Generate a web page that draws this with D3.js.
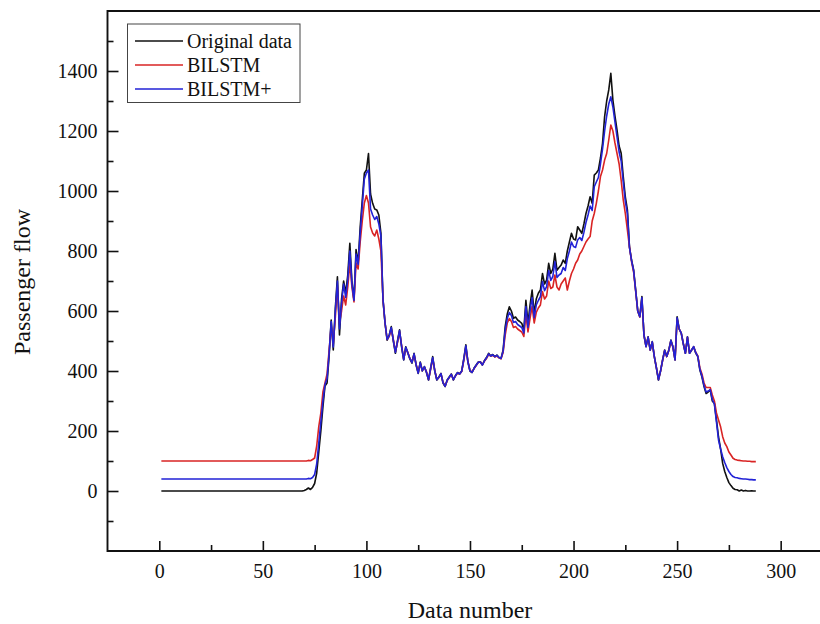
<!DOCTYPE html>
<html><head><meta charset="utf-8">
<script src="https://cdn.jsdelivr.net/npm/d3@7"></script>
<style>body{margin:0;background:#fff} svg{display:block;overflow:hidden}</style>
</head><body><svg id="c" width="820" height="624"></svg>
<script>
const seriesNames = ["Original data", "BILSTM", "BILSTM+"];
const seriesColors = ["#111111", "#d92424", "#2222d6"];

// Data number 1..288
const original = [
0,0,0,0,0,0,0,0,0,0,
0,0,0,0,0,0,0,0,0,0,
0,0,0,0,0,0,0,0,0,0,
0,0,0,0,0,0,0,0,0,0,
0,0,0,0,0,0,0,0,0,0,
0,0,0,0,0,0,0,0,0,0,
0,0,0,0,0,0,0,0,0,2,
5,10,5,12,25,60,130,200,280,350,
360,450,570,470,610,714,520,640,700,660,
720,826,700,636,805,760,880,970,1059,1070,
1125,990,959,940,937,920,860,636,560,503,
520,548,500,459,500,537,480,437,481,460,
440,426,459,420,392,430,400,415,395,370,
410,448,400,370,380,392,360,348,370,380,
390,370,385,395,390,400,440,487,430,400,
395,410,420,430,431,420,435,445,459,450,
455,448,453,445,442,470,548,590,614,600,
576,580,570,565,559,537,636,559,620,670,
592,640,659,670,725,690,703,759,725,740,
792,736,745,753,770,759,800,830,859,840,
837,881,870,859,890,925,950,981,959,1053,
1060,1070,1110,1159,1248,1300,1337,1392,1303,1250,
1203,1150,1126,1048,980,937,814,770,737,670,
600,581,648,520,481,514,470,498,448,410,
370,400,437,470,448,470,503,480,437,581,
540,526,490,459,514,459,470,481,460,448,
403,380,348,325,330,337,300,292,237,180,
140,92,65,45,28,18,9,5,4,0,
3,0,2,0,0,1,0,0
];

const bilstm = [
100,100,100,100,100,100,100,100,100,100,
100,100,100,100,100,100,100,100,100,100,
100,100,100,100,100,100,100,100,100,100,
100,100,100,100,100,100,100,100,100,100,
100,100,100,100,100,100,100,100,100,100,
100,100,100,100,100,100,100,100,100,100,
100,100,100,100,100,100,100,100,100,100,
100,102,101,105,110,150,215,260,330,360,
390,470,550,490,580,680,560,600,650,620,
680,760,680,630,760,740,830,900,960,985,
960,880,860,850,870,840,800,640,560,505,
515,540,505,465,495,530,485,440,475,462,
442,430,455,422,395,425,402,412,398,372,
405,440,402,372,378,390,362,350,368,378,
388,372,383,393,390,398,435,478,432,402,
396,408,418,428,430,421,433,442,455,450,
452,447,450,444,441,462,520,560,575,565,
545,548,540,535,530,515,590,530,575,615,
560,595,610,620,665,640,650,700,675,680,
720,680,670,690,700,710,670,700,725,740,
759,770,790,800,815,830,840,848,900,925,
959,1000,1048,1070,1103,1125,1170,1220,1200,1160,
1125,1090,1035,970,925,870,814,765,730,665,
600,580,640,520,482,512,470,496,448,412,
372,400,435,468,448,468,500,480,438,572,
540,526,492,460,512,460,470,480,462,450,
410,390,360,345,345,345,320,300,260,237,
214,181,160,148,130,120,109,105,103,102,
101,100,100,99,99,98,98,98
];

const bilstmPlus = [
40,40,40,40,40,40,40,40,40,40,
40,40,40,40,40,40,40,40,40,40,
40,40,40,40,40,40,40,40,40,40,
40,40,40,40,40,40,40,40,40,40,
40,40,40,40,40,40,40,40,40,40,
40,40,40,40,40,40,40,40,40,40,
40,40,40,40,40,40,40,40,40,40,
40,42,41,45,55,90,160,230,300,355,
375,460,565,480,600,700,540,625,690,645,
705,800,690,635,790,755,860,950,1040,1060,
1070,940,920,905,915,890,850,640,560,505,
518,545,502,462,498,535,482,438,479,461,
441,428,457,421,393,428,401,414,396,371,
408,445,401,371,379,391,361,349,369,379,
389,371,384,394,390,399,438,484,431,401,
395,409,419,429,430,420,434,444,457,450,
454,448,452,445,442,466,535,575,595,585,
562,565,555,550,545,527,615,545,600,645,
578,620,635,648,698,668,681,735,702,715,
765,712,720,725,745,735,775,800,830,815,
812,837,845,835,862,895,920,950,935,1014,
1030,1045,1090,1140,1200,1250,1290,1314,1280,1230,
1180,1130,1100,1030,965,925,812,768,735,668,
600,581,645,520,481,513,470,497,448,411,
371,400,436,469,448,469,502,480,437,577,
540,526,491,459,513,459,470,481,461,449,
405,383,352,330,333,338,305,290,230,170,
140,114,95,78,65,55,48,45,44,42,
41,40,40,39,38,38,37,37
];

const xTickValues = [0, 50, 100, 150, 200, 250, 300];
const xMinorTicks = [25, 75, 125, 175, 225, 275];
const yTickValues = [0, 200, 400, 600, 800, 1000, 1200, 1400];
const yMinorTicks = [-100, 100, 300, 500, 700, 900, 1100, 1300, 1500];
const xLabel = "Data number";
const yLabel = "Passenger flow";

const dataNumber = d3.range(1, original.length + 1);
const allSeries = [original, bilstm, bilstmPlus];

const svg = d3.select("#c");
const L = 107.5, T = 11, B = 551, R = 840;
const x = d3.scaleLinear().domain([-25, 335]).range([L, L + 360 * 2.0713]);
const y = d3.scaleLinear().domain([-200, 1600]).range([B, T]);
const font = "'Liberation Serif','Times New Roman',serif";

// axes
const gy = svg.append("g").attr("transform", `translate(${L},0)`)
  .call(d3.axisLeft(y).tickValues(yTickValues).tickSize(-11).tickPadding(10).tickFormat(d3.format("d")));
const gyMinor = svg.append("g").attr("transform", `translate(${L},0)`)
  .call(d3.axisLeft(y).tickValues(yMinorTicks).tickSize(-6).tickFormat(""));
const gx = svg.append("g").attr("transform", `translate(0,${B})`)
  .call(d3.axisBottom(x).tickValues(xTickValues).tickSize(-10).tickPadding(13).tickFormat(d3.format("d")));
const gxMinor = svg.append("g").attr("transform", `translate(0,${B})`)
  .call(d3.axisBottom(x).tickValues(xMinorTicks).tickSize(-6).tickFormat(""));
[gy, gyMinor, gx, gxMinor].forEach(g => {
  g.select(".domain").remove();
  g.selectAll(".tick line").attr("stroke", "#111").attr("stroke-width", 1.6);
  g.selectAll("text").attr("font-family", font).attr("font-size", 20).attr("fill", "#111");
});

// lines
const line = d3.line().x((d, i) => x(dataNumber[i])).y(d => y(d));
allSeries.forEach((s, k) => {
  svg.append("path").datum(s).attr("d", line)
    .attr("fill", "none").attr("stroke", seriesColors[k]).attr("stroke-width", 1.6)
    .attr("stroke-linejoin", "round");
});

// frame
svg.append("path").attr("d", `M${R},${T}H${L}V${B}H${R}`)
  .attr("fill", "none").attr("stroke", "#111").attr("stroke-width", 1.9);

// axis titles
svg.append("text").attr("x", 470).attr("y", 618).attr("text-anchor", "middle")
  .attr("font-family", font).attr("font-size", 24).attr("fill", "#111").text(xLabel);
svg.append("text").attr("transform", "translate(30,282) rotate(-90)").attr("text-anchor", "middle")
  .attr("font-family", font).attr("font-size", 24).attr("fill", "#111").text(yLabel);

// legend
const lg = svg.append("g");
lg.append("rect").attr("x", 127.5).attr("y", 24).attr("width", 172.5).attr("height", 78.5)
  .attr("fill", "#fff").attr("stroke", "#444").attr("stroke-width", 1);
seriesNames.forEach((n, k) => {
  const yy = 41 + k * 24;
  lg.append("line").attr("x1", 135).attr("x2", 183).attr("y1", yy).attr("y2", yy)
    .attr("stroke", seriesColors[k]).attr("stroke-width", 1.4);
  lg.append("text").attr("x", 187).attr("y", yy).attr("dy", "0.35em")
    .attr("font-family", font).attr("font-size", 20).attr("fill", "#111").text(n);
});
</script></body></html>
